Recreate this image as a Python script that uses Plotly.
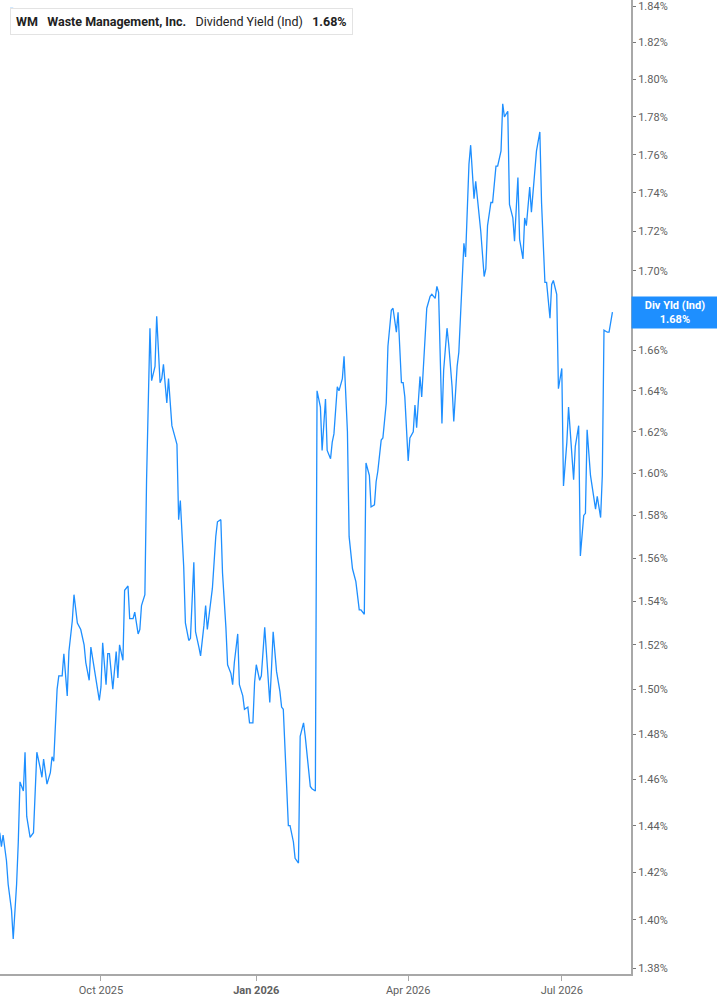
import numpy as np
import plotly.graph_objects as go

# WM dividend yield (indicated), %
dates = [
    "2025-08-02", "2025-08-03", "2025-08-04", "2025-08-06", "2025-08-07", "2025-08-09", "2025-08-10",
    "2025-08-12", "2025-08-13", "2025-08-14", "2025-08-16", "2025-08-17", "2025-08-18", "2025-08-20",
    "2025-08-22", "2025-08-24", "2025-08-26", "2025-08-27", "2025-08-28", "2025-08-30", "2025-09-01",
    "2025-09-02", "2025-09-03", "2025-09-05", "2025-09-06", "2025-09-08", "2025-09-09", "2025-09-11",
    "2025-09-12", "2025-09-14", "2025-09-15", "2025-09-17", "2025-09-19", "2025-09-21", "2025-09-22",
    "2025-09-24", "2025-09-25", "2025-09-27", "2025-09-28", "2025-09-30", "2025-10-01", "2025-10-02",
    "2025-10-04", "2025-10-05", "2025-10-06", "2025-10-08", "2025-10-10", "2025-10-11", "2025-10-12",
    "2025-10-14", "2025-10-15", "2025-10-17", "2025-10-18", "2025-10-20", "2025-10-21", "2025-10-23",
    "2025-10-24", "2025-10-25", "2025-10-27", "2025-10-28", "2025-10-30", "2025-10-31", "2025-11-02",
    "2025-11-03", "2025-11-05", "2025-11-06", "2025-11-07", "2025-11-09", "2025-11-10", "2025-11-12",
    "2025-11-13", "2025-11-15", "2025-11-16", "2025-11-17", "2025-11-19", "2025-11-20", "2025-11-22",
    "2025-11-23", "2025-11-25", "2025-11-26", "2025-11-28", "2025-11-29", "2025-12-01", "2025-12-02",
    "2025-12-03", "2025-12-05", "2025-12-06", "2025-12-08", "2025-12-09", "2025-12-11", "2025-12-12",
    "2025-12-14", "2025-12-15", "2025-12-17", "2025-12-18", "2025-12-19", "2025-12-21", "2025-12-22",
    "2025-12-24", "2025-12-25", "2025-12-27", "2025-12-28", "2025-12-30", "2025-12-31", "2026-01-01",
    "2026-01-03", "2026-01-04", "2026-01-06", "2026-01-07", "2026-01-09", "2026-01-10", "2026-01-11",
    "2026-01-13", "2026-01-15", "2026-01-16", "2026-01-17", "2026-01-19", "2026-01-20", "2026-01-21",
    "2026-01-23", "2026-01-24", "2026-01-26", "2026-01-27", "2026-01-29", "2026-01-30", "2026-02-01",
    "2026-02-02", "2026-02-03", "2026-02-05", "2026-02-06", "2026-02-08", "2026-02-09", "2026-02-11",
    "2026-02-12", "2026-02-14", "2026-02-15", "2026-02-16", "2026-02-18", "2026-02-19", "2026-02-21",
    "2026-02-22", "2026-02-24", "2026-02-25", "2026-02-27", "2026-02-28", "2026-03-01", "2026-03-03",
    "2026-03-04", "2026-03-06", "2026-03-07", "2026-03-09", "2026-03-10", "2026-03-12", "2026-03-13",
    "2026-03-14", "2026-03-16", "2026-03-17", "2026-03-19", "2026-03-20", "2026-03-22", "2026-03-23",
    "2026-03-25", "2026-03-26", "2026-03-28", "2026-03-29", "2026-03-30", "2026-04-01", "2026-04-02",
    "2026-04-04", "2026-04-05", "2026-04-06", "2026-04-08", "2026-04-09", "2026-04-11", "2026-04-12",
    "2026-04-14", "2026-04-15", "2026-04-17", "2026-04-18", "2026-04-19", "2026-04-21", "2026-04-22",
    "2026-04-24", "2026-04-25", "2026-04-27", "2026-04-28", "2026-04-30", "2026-05-01", "2026-05-02",
    "2026-05-04", "2026-05-05", "2026-05-07", "2026-05-08", "2026-05-10", "2026-05-11", "2026-05-13",
    "2026-05-14", "2026-05-16", "2026-05-17", "2026-05-18", "2026-05-20", "2026-05-21", "2026-05-23",
    "2026-05-24", "2026-05-26", "2026-05-27", "2026-05-28", "2026-05-30", "2026-05-31", "2026-06-02",
    "2026-06-03", "2026-06-05", "2026-06-06", "2026-06-08", "2026-06-09", "2026-06-10", "2026-06-12",
    "2026-06-13", "2026-06-15", "2026-06-16", "2026-06-18", "2026-06-19", "2026-06-21", "2026-06-22",
    "2026-06-24", "2026-06-25", "2026-06-26", "2026-06-28", "2026-06-29", "2026-07-01", "2026-07-02",
    "2026-07-04", "2026-07-05", "2026-07-06", "2026-07-08", "2026-07-09", "2026-07-11", "2026-07-12",
    "2026-07-14", "2026-07-15", "2026-07-16", "2026-07-18", "2026-07-19", "2026-07-21", "2026-07-22",
    "2026-07-24", "2026-07-25", "2026-07-26", "2026-07-28", "2026-07-29", "2026-07-31",
]

div_yield = [
    1.437, 1.431, 1.436, 1.425, 1.415, 1.404, 1.392, 1.415, 1.433, 1.459, 1.455, 1.472, 1.444, 1.435,
    1.437, 1.472, 1.465, 1.461, 1.469, 1.458, 1.463, 1.470, 1.468, 1.500, 1.506, 1.506, 1.516, 1.497,
    1.517, 1.531, 1.543, 1.530, 1.527, 1.520, 1.512, 1.504, 1.519, 1.509, 1.504, 1.495, 1.501, 1.521,
    1.502, 1.516, 1.516, 1.500, 1.517, 1.505, 1.520, 1.513, 1.545, 1.547, 1.532, 1.532, 1.535, 1.525,
    1.527, 1.538, 1.543, 1.597, 1.671, 1.645, 1.652, 1.677, 1.644, 1.646, 1.653, 1.634, 1.646, 1.623,
    1.620, 1.614, 1.578, 1.587, 1.556, 1.530, 1.522, 1.523, 1.558, 1.526, 1.519, 1.515, 1.529, 1.538,
    1.527, 1.541, 1.546, 1.570, 1.577, 1.578, 1.553, 1.528, 1.511, 1.507, 1.502, 1.512, 1.525, 1.502,
    1.497, 1.491, 1.492, 1.485, 1.485, 1.503, 1.511, 1.504, 1.506, 1.528, 1.515, 1.494, 1.509, 1.526,
    1.508, 1.499, 1.492, 1.491, 1.457, 1.440, 1.440, 1.433, 1.426, 1.424, 1.479, 1.485, 1.479, 1.466,
    1.457, 1.456, 1.455, 1.640, 1.632, 1.611, 1.636, 1.611, 1.607, 1.615, 1.619, 1.642, 1.640, 1.646,
    1.657, 1.620, 1.570, 1.555, 1.552, 1.549, 1.536, 1.536, 1.534, 1.605, 1.599, 1.584, 1.585, 1.596,
    1.601, 1.616, 1.617, 1.634, 1.662, 1.680, 1.681, 1.669, 1.679, 1.644, 1.644, 1.637, 1.606, 1.617,
    1.620, 1.633, 1.622, 1.647, 1.637, 1.664, 1.681, 1.687, 1.688, 1.686, 1.692, 1.689, 1.624, 1.650,
    1.671, 1.663, 1.642, 1.625, 1.652, 1.659, 1.678, 1.714, 1.707, 1.755, 1.765, 1.737, 1.746, 1.727,
    1.720, 1.697, 1.701, 1.723, 1.735, 1.735, 1.754, 1.754, 1.762, 1.787, 1.780, 1.783, 1.734, 1.727,
    1.715, 1.748, 1.716, 1.706, 1.727, 1.723, 1.743, 1.730, 1.753, 1.762, 1.772, 1.735, 1.694, 1.694,
    1.676, 1.693, 1.695, 1.688, 1.641, 1.651, 1.594, 1.615, 1.632, 1.620, 1.597, 1.613, 1.623, 1.561,
    1.580, 1.581, 1.621, 1.599, 1.593, 1.583, 1.589, 1.579, 1.599, 1.670, 1.669, 1.669, 1.679,
]

# 1.68% sits under the last-value tag, so it is left out of the tick list
y_ticks = [1.38, 1.40, 1.42, 1.44, 1.46, 1.48, 1.50, 1.52, 1.54, 1.56, 1.58, 1.60,
           1.62, 1.64, 1.66, 1.70, 1.72, 1.74, 1.76, 1.78, 1.80, 1.82, 1.84]
x_ticks = ["2025-10-01", "2026-01-01", "2026-04-01", "2026-07-01"]
x_tick_labels = ["Oct 2025", "<b>Jan 2026</b>", "Apr 2026", "Jul 2026"]

line_blue = "#1e8fff"
axis_grey = "#a8a8a8"
text_grey = "#606060"

fig = go.Figure()
fig.add_trace(go.Scatter(x=dates, y=div_yield, mode="lines",
                         line=dict(color=line_blue, width=1.3), showlegend=False,
                         hoverinfo="x+y"))

fig.update_xaxes(type="date", range=["2025-08-02 04:00", "2026-08-11"],
                 tickvals=x_ticks, ticktext=x_tick_labels,
                 showgrid=False, zeroline=False,
                 showline=True, linecolor=axis_grey, linewidth=2,
                 ticks="outside", ticklen=5, tickcolor=axis_grey,
                 tickfont=dict(family="Roboto", size=11, color=text_grey))
fig.update_yaxes(type="log", range=[0.13910, 0.26560], side="right",
                 tickvals=y_ticks, ticktext=[f"{v:.2f}%" for v in y_ticks],
                 ticklabeloverflow="allow",
                 showgrid=False, zeroline=False,
                 showline=True, linecolor=axis_grey, linewidth=2,
                 ticks="outside", ticklen=3, tickcolor="#777777",
                 tickfont=dict(family="Roboto", size=11, color=text_grey))

# legend-like header box
fig.add_annotation(xref="paper", yref="paper", x=0.016, y=0.9918, xanchor="left", yanchor="top",
                   text="<b>WM</b>   <b>Waste Management, Inc.</b>   Dividend Yield (Ind)   <b>1.68%</b>",
                   showarrow=False, align="left", bgcolor="white", bordercolor="#e3e3e3",
                   borderwidth=1, borderpad=5,
                   font=dict(family="Roboto", size=12.5, color="#222222"))
fig.add_shape(type="rect", xref="paper", yref="paper", x0=0.016, x1=0.021, y0=0.966, y1=0.992,
              fillcolor=line_blue, line=dict(width=0))

# last value tag on the right axis
fig.add_annotation(xref="paper", yref="y", x=1, y=np.log10(div_yield[-1]), xanchor="left",
                   xshift=0, text=f"<b>Div Yld (Ind)<br>{div_yield[-1]:.2f}%</b>", showarrow=False,
                   bgcolor=line_blue, width=82, borderpad=2,
                   font=dict(family="Roboto", size=11, color="white"))

fig.update_layout(width=717, height=1005, margin=dict(l=0, r=86, t=0, b=31),
                  plot_bgcolor="white", paper_bgcolor="white")
fig.write_html("out.html", config={"displayModeBar": False},
               post_script="document.body.style.margin='0';")
